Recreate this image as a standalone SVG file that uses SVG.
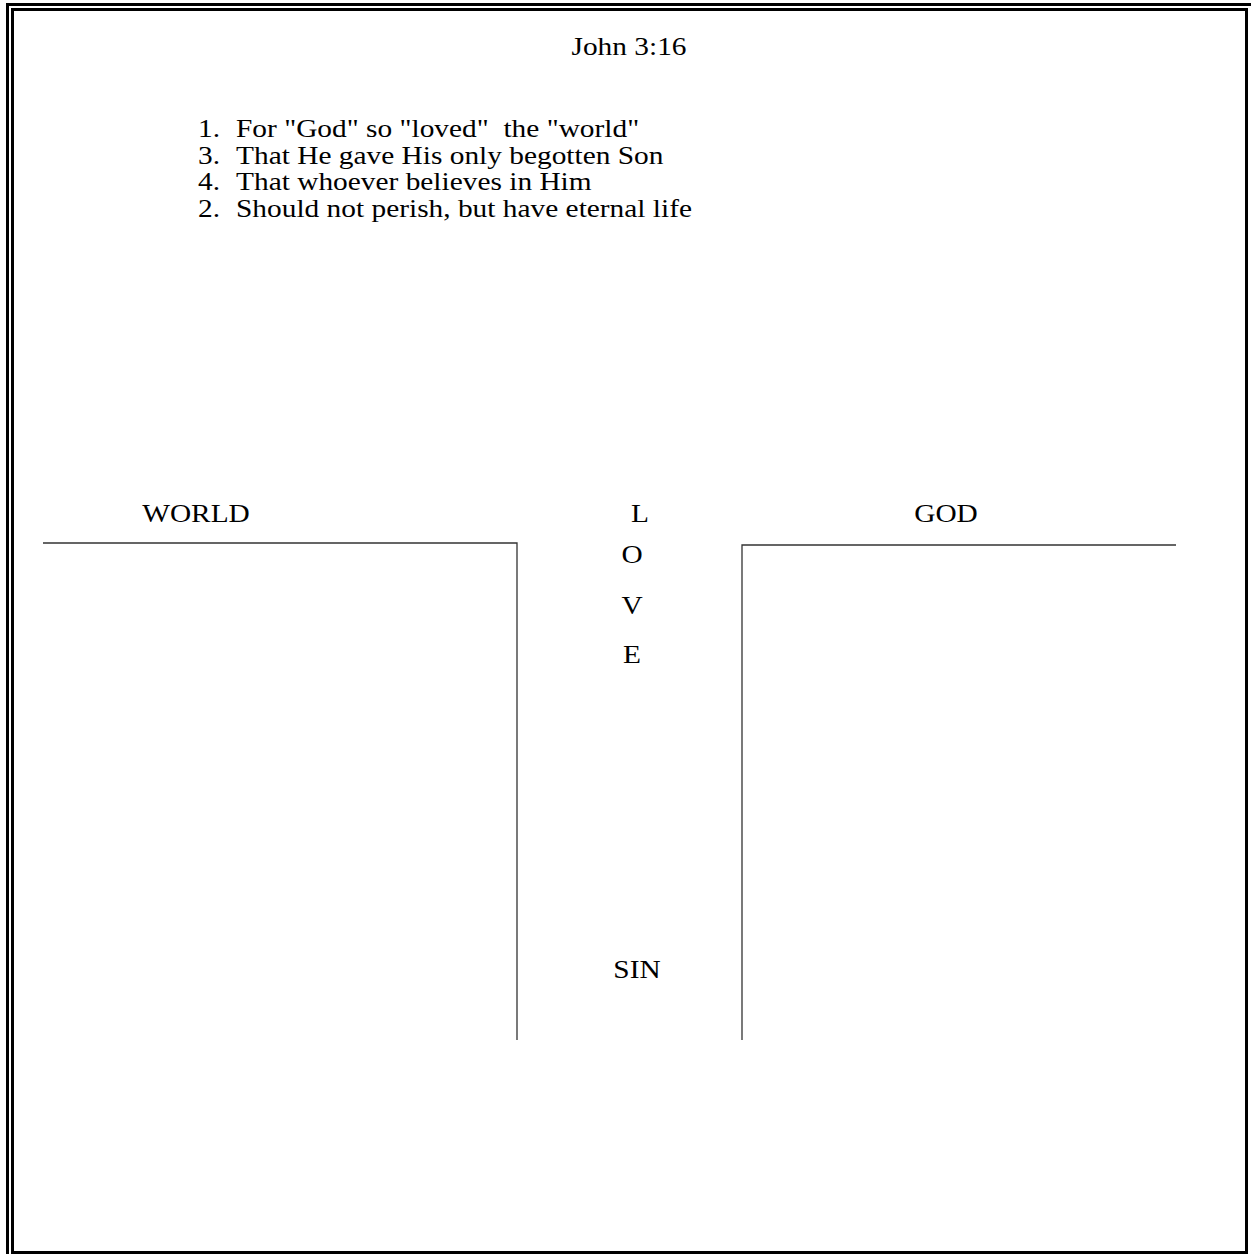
<svg xmlns="http://www.w3.org/2000/svg" width="1251" height="1254" viewBox="0 0 1251 1254">
<style>
  text { font-family: "Liberation Serif", "Times New Roman", serif; fill: #000; font-size: 26px; }
  .c { text-anchor: middle; }
  .ln { stroke: #333; stroke-width: 1.3; fill: none; }
  .frame { fill: none; stroke: #000; stroke-width: 3; }
</style>
<rect width="1251" height="1254" fill="#fff"/>
<g id="frame">
  <rect class="frame" x="7.5" y="4.5" width="1260" height="1260"/>
  <rect class="frame" x="12.5" y="9.5" width="1234" height="1243"/>
</g>
<g id="title">
  <text class="c" transform="translate(629,55) scale(1.13,1)">John 3:16</text>
</g>
<g id="verse">
  <text transform="translate(198,137) scale(1.13,1)">1.</text><text transform="translate(236,137) scale(1.13,1)" xml:space="preserve">For "God" so "loved"  the "world"</text>
  <text transform="translate(198,164) scale(1.13,1)">3.</text><text transform="translate(236,164) scale(1.13,1)">That He gave His only begotten Son</text>
  <text transform="translate(198,190) scale(1.13,1)">4.</text><text transform="translate(236,190) scale(1.13,1)">That whoever believes in Him</text>
  <text transform="translate(198,217) scale(1.13,1)">2.</text><text transform="translate(236,217) scale(1.13,1)">Should not perish, but have eternal life</text>
</g>
<g id="world">
  <text class="c" transform="translate(196,522) scale(1.13,1)" font-size="27">WORLD</text>
</g>
<g id="god">
  <text class="c" transform="translate(946,522) scale(1.13,1)">GOD</text>
</g>
<g id="love">
  <text class="c" transform="translate(640,522) scale(1.13,1)">L</text>
  <text class="c" transform="translate(632,563) scale(1.13,1)">O</text>
  <text class="c" transform="translate(632,614) scale(1.13,1)">V</text>
  <text class="c" transform="translate(632,663) scale(1.13,1)">E</text>
</g>
<g id="sin">
  <text class="c" transform="translate(637,978) scale(1.13,1)">SIN</text>
</g>
<g id="connectors">
  <polyline class="ln" points="43,543 517,543 517,1040"/>
  <polyline class="ln" points="1176,545 742,545 742,1040"/>
</g>
</svg>
